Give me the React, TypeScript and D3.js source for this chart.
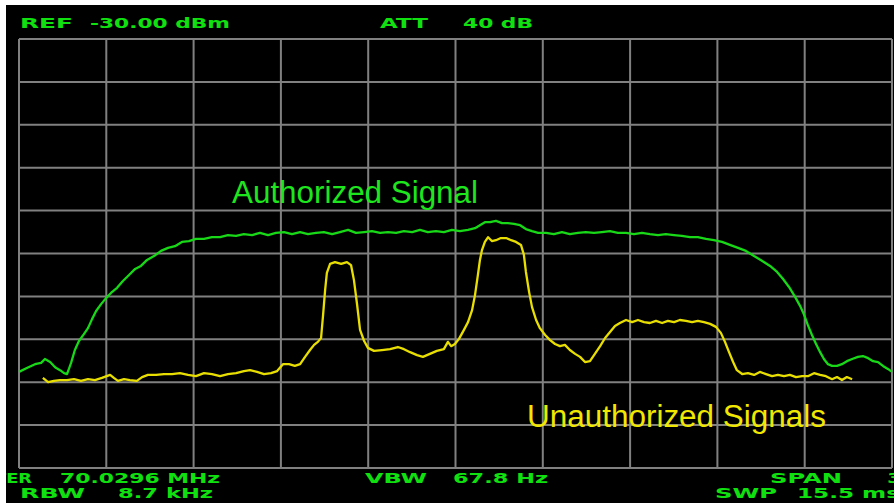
import React from 'react';
import * as d3 from 'd3';

// spectrum analyzer screen: 30 kHz span, 10 dB/div from REF -30 dBm
const freqTicks = [-15, -12, -9, -6, -3, 0, 3, 6, 9, 12, 15];
const levelTicks = [-30, -40, -50, -60, -70, -80, -90, -100, -110, -120, -130];

// authorized (wideband) signal trace, kHz offset / dBm
const authFreq = [
  -15.0, -14.73, -14.45, -14.24, -14.11, -13.93, -13.76, -13.59, -13.45, -13.35,
  -13.21, -13.08, -12.94, -12.77, -12.63, -12.49, -12.35, -12.18, -12.01, -11.84,
  -11.63, -11.43, -11.22, -11.01, -10.81, -10.6, -10.36, -10.12, -9.88, -9.64,
  -9.4, -9.16, -8.92, -8.64, -8.37, -8.09, -7.82, -7.54, -7.27, -6.99,
  -6.72, -6.44, -6.17, -5.89, -5.62, -5.34, -5.07, -4.79, -4.52, -4.24,
  -3.97, -3.69, -3.42, -3.14, -2.87, -2.59, -2.32, -2.04, -1.77, -1.49,
  -1.22, -0.95, -0.67, -0.4, -0.12, 0.15, 0.43, 0.67, 0.84, 1.01,
  1.19, 1.39, 1.6, 1.8, 2.01, 2.22, 2.42, 2.63, 2.84, 3.11,
  3.38, 3.66, 3.93, 4.21, 4.48, 4.76, 5.03, 5.31, 5.58, 5.86,
  6.13, 6.41, 6.68, 6.96, 7.23, 7.51, 7.78, 8.06, 8.33, 8.61,
  8.88, 9.16, 9.43, 9.71, 9.98, 10.26, 10.53, 10.81, 11.05, 11.25,
  11.46, 11.67, 11.84, 11.98, 12.11, 12.25, 12.39, 12.53, 12.66, 12.8,
  12.94, 13.11, 13.28, 13.45, 13.63, 13.83, 14.0, 14.18, 14.35, 14.52,
  14.69, 14.86, 15.0,
];
const authLevel = [
  -107.6, -106.7, -105.8, -105.5, -104.6, -105.3, -106.5, -107.2, -107.9, -108.1,
  -105.5, -102.5, -100.4, -98.8, -97.4, -95.3, -93.4, -91.8, -90.4, -89.2,
  -88.0, -86.4, -85.0, -83.6, -82.9, -81.5, -80.6, -79.4, -78.7, -78.3,
  -77.3, -77.1, -76.6, -76.6, -76.2, -76.2, -75.7, -75.9, -75.5, -75.7,
  -75.2, -75.7, -75.2, -75.0, -75.5, -75.0, -75.5, -75.2, -75.0, -75.5,
  -75.0, -74.5, -75.2, -75.0, -74.8, -75.2, -75.0, -75.2, -74.8, -75.0,
  -74.5, -75.0, -74.8, -75.0, -74.5, -74.8, -74.5, -74.1, -73.4, -72.7,
  -72.7, -72.4, -72.9, -72.9, -73.1, -73.4, -74.3, -74.8, -75.2, -75.2,
  -75.5, -75.0, -75.5, -75.2, -75.0, -75.2, -75.0, -74.8, -75.2, -75.2,
  -75.5, -75.2, -75.5, -75.7, -75.5, -75.7, -75.9, -76.2, -76.2, -76.6,
  -76.9, -77.3, -78.0, -78.7, -79.4, -80.6, -81.7, -82.9, -84.3, -85.9,
  -87.8, -90.1, -92.2, -94.3, -96.7, -99.0, -101.1, -103.0, -104.6, -105.8,
  -106.2, -106.2, -105.8, -105.1, -104.6, -104.1, -103.9, -104.4, -105.1, -105.3,
  -106.2, -106.9, -107.6,
];

// unauthorized (narrowband) signals trace
const unauthFreq = [
  -14.18, -14.0, -13.8, -13.59, -13.35, -13.11, -12.87, -12.63, -12.39, -12.15,
  -11.87, -11.74, -11.6, -11.39, -11.19, -10.95, -10.77, -10.57, -10.29, -10.02,
  -9.74, -9.47, -9.19, -8.92, -8.64, -8.37, -8.09, -7.82, -7.54, -7.27,
  -7.06, -6.82, -6.58, -6.34, -6.13, -5.93, -5.72, -5.52, -5.34, -5.17,
  -5.0, -4.86, -4.73, -4.62, -4.55, -4.48, -4.42, -4.31, -4.14, -3.93,
  -3.73, -3.59, -3.49, -3.38, -3.28, -3.14, -3.01, -2.8, -2.53, -2.25,
  -1.98, -1.77, -1.56, -1.32, -1.12, -0.88, -0.64, -0.4, -0.26, -0.15,
  -0.02, 0.12, 0.29, 0.43, 0.57, 0.67, 0.77, 0.84, 0.91, 1.01,
  1.12, 1.25, 1.39, 1.56, 1.74, 1.91, 2.08, 2.25, 2.35, 2.42,
  2.53, 2.63, 2.77, 2.9, 3.08, 3.25, 3.42, 3.59, 3.76, 3.93,
  4.11, 4.28, 4.45, 4.62, 4.79, 4.97, 5.14, 5.31, 5.48, 5.65,
  5.86, 6.07, 6.27, 6.48, 6.68, 6.89, 7.1, 7.3, 7.51, 7.71,
  7.92, 8.13, 8.33, 8.54, 8.75, 8.95, 9.12, 9.26, 9.4, 9.54,
  9.67, 9.85, 10.05, 10.26, 10.46, 10.67, 10.88, 11.08, 11.29, 11.49,
  11.7, 11.91, 12.11, 12.32, 12.53, 12.73, 12.94, 13.11, 13.28, 13.45,
  13.63,
];
const unauthLevel = [
  -109.0, -110.0, -109.7, -109.5, -109.5, -109.3, -109.7, -109.3, -109.5, -109.0,
  -108.3, -109.0, -109.7, -109.3, -109.5, -109.7, -108.8, -108.3, -108.3, -108.1,
  -108.1, -107.9, -108.3, -108.6, -107.9, -108.1, -108.6, -108.1, -107.9, -107.4,
  -107.2, -107.6, -108.1, -107.9, -107.4, -105.8, -105.8, -106.2, -105.8, -104.1,
  -102.5, -101.3, -100.6, -99.7, -94.3, -88.5, -84.5, -82.4, -82.0, -82.4,
  -82.0, -82.7, -86.2, -92.0, -97.8, -100.4, -102.0, -102.7, -102.5, -102.3,
  -101.8, -102.3, -103.0, -103.7, -104.1, -103.4, -102.7, -102.3, -100.6, -101.6,
  -101.1, -99.9, -97.8, -96.0, -93.2, -89.7, -85.0, -81.5, -79.2, -77.3,
  -76.2, -77.1, -76.9, -76.4, -76.4, -76.9, -77.3, -78.0, -80.3, -84.3,
  -89.0, -92.5, -95.5, -97.4, -99.0, -100.2, -101.1, -101.6, -101.3, -102.5,
  -103.4, -104.1, -105.3, -105.1, -103.4, -101.6, -99.7, -98.3, -96.9, -96.2,
  -95.5, -96.0, -95.5, -96.0, -96.2, -95.7, -96.2, -95.7, -96.0, -95.5,
  -95.7, -96.0, -95.7, -96.0, -96.4, -97.1, -98.5, -100.6, -103.0, -105.3,
  -107.2, -108.1, -107.9, -108.3, -107.6, -108.1, -108.6, -108.3, -108.6, -108.3,
  -108.8, -108.6, -108.6, -107.9, -108.3, -108.6, -109.3, -108.8, -109.5, -108.8,
  -109.3,
];

const W = 894;
const H = 503;
const green = '#18d818';
const yellow = '#e8de00';
const hud = '#10e010';

const x = d3.scaleLinear().domain([-15, 15]).range([19, 892]);
const y = d3.scaleLinear().domain([-130, -30]).range([468, 39]);

const line = d3.line<[number, number]>()
  .x(d => x(d[0]))
  .y(d => y(d[1]));

const authPath = line(authFreq.map((f, i) => [f, authLevel[i]]) as [number, number][]);
const unauthPath = line(unauthFreq.map((f, i) => [f, unauthLevel[i]]) as [number, number][]);

// instrument readouts: [text, x start, width, baseline]
// CENTER and SPAN value run past the screen edges, as in the photo
const readouts: [string, number, number, number][] = [
  ['REF', 20, 53, 28],
  ['-30.00 dBm', 90, 140, 28],
  ['ATT', 380, 48, 28],
  ['40 dB', 463, 70, 28],
  ['CENTER', -46, 78, 483],
  ['70.0296 MHz', 60, 160, 483],
  ['VBW', 365, 62, 483],
  ['67.8 Hz', 453, 95, 483],
  ['SPAN', 770, 72, 483],
  ['30 kHz', 887, 88, 483],
  ['RBW', 20, 65, 498],
  ['8.7 kHz', 118, 95, 498],
  ['SWP', 715, 62, 498],
  ['15.5 ms', 797, 103, 498],
];

export default function App() {
  return (
    <svg width={W} height={H} style={{ position: 'absolute', left: 0, top: 0, display: 'block' }}>
      <rect x={0} y={0} width={W} height={H} fill="#000" />

      <g stroke="#808080" strokeWidth={2} fill="none">
        {freqTicks.map(f => (
          <line key={'v' + f} x1={x(f)} x2={x(f)} y1={y(-30)} y2={y(-130)} />
        ))}
        {levelTicks.map(l => (
          <line key={'h' + l} x1={x(-15)} x2={x(15)} y1={y(l)} y2={y(l)} />
        ))}
      </g>

      <path d={authPath || ''} fill="none" stroke={green} strokeWidth={2.3} strokeLinejoin="round" />
      <path d={unauthPath || ''} fill="none" stroke={yellow} strokeWidth={2.3} strokeLinejoin="round" />

      <text x={232} y={203} fontFamily="Liberation Sans, Arial, sans-serif" fontSize={31}
        fill="#1ee61e" textLength={246} lengthAdjust="spacingAndGlyphs">Authorized Signal</text>
      <text x={527} y={427} fontFamily="Liberation Sans, Arial, sans-serif" fontSize={31}
        fill="#f0e800" textLength={299} lengthAdjust="spacingAndGlyphs">Unauthorized Signals</text>

      <g fontFamily="DejaVu Sans, sans-serif" fontSize={13.5} fontWeight="bold" fill={hud}>
        {readouts.map(([t, tx, tw, ty]) => (
          <text key={t} x={tx} y={ty} textLength={tw} lengthAdjust="spacingAndGlyphs">{t}</text>
        ))}
      </g>

      {/* white edge strips of the photographed screen */}
      <rect x={0} y={0} width={W} height={5} fill="#fff" />
      <rect x={0} y={0} width={6} height={H} fill="#fff" />
    </svg>
  );
}
